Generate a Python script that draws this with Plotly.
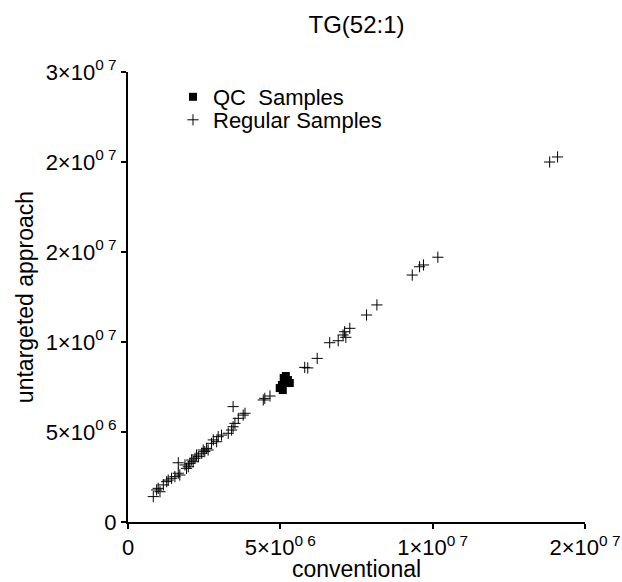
import numpy as np
import plotly.graph_objects as go

# values in units of 1e6
reg_x = [0.83, 0.94, 1.05, 0.99, 1.16, 1.27, 1.32, 1.43, 1.54, 1.65, 1.70, 1.65, 1.87, 1.92, 1.98,
         2.03, 2.09, 2.14, 2.20, 2.25, 2.31, 2.42, 2.47, 2.52, 2.58, 2.63, 2.74, 2.80, 2.91, 2.96,
         3.07, 3.29, 3.40, 3.45, 3.51, 3.62, 3.78, 3.84, 3.45, 4.44, 4.49, 4.66, 5.80, 5.90, 6.21,
         6.62, 6.90, 7.06, 7.11, 7.15, 7.28, 7.83, 8.17, 9.33, 9.57, 9.70, 10.17, 13.84, 14.10]
reg_y = [1.41, 1.78, 1.68, 1.87, 2.06, 2.24, 2.33, 2.43, 2.52, 2.71, 2.61, 3.29, 3.17, 2.98, 3.07,
         3.26, 3.44, 3.35, 3.54, 3.72, 3.63, 3.82, 4.00, 3.91, 4.09, 4.00, 4.37, 4.56, 4.46, 4.74,
         4.83, 4.93, 5.11, 5.29, 5.48, 5.76, 5.94, 6.04, 6.41, 6.78, 6.87, 7.00, 8.59, 8.56, 9.09,
         9.96, 10.07, 10.39, 10.57, 10.26, 10.76, 11.50, 12.06, 13.72, 14.18, 14.28, 14.71, 20.00, 20.28]
qc_x = [4.98, 5.05, 5.15, 5.11, 5.25, 5.18, 5.08, 5.31]
qc_y = [7.44, 7.61, 7.78, 8.00, 7.89, 8.11, 7.33, 7.72]

x_ticks = [0, 5e6, 1e7, 1.5e7]
x_labels = ["0", "5×10<sup>0 6</sup>", "1×10<sup>0 7</sup>", "2×10<sup>0 7</sup>"]
y_ticks = [0, 5e6, 1e7, 1.5e7, 2e7, 2.5e7]
y_labels = ["0", "5×10<sup>0 6</sup>", "1×10<sup>0 7</sup>", "2×10<sup>0 7</sup>",
            "2×10<sup>0 7</sup>", "3×10<sup>0 7</sup>"]

scale = 1e6
L, R, T, B = 128, 37, 72, 60
W, H = 622, 582
pw, ph = W - L - R, H - T - B

def lx(px):
    return (px - L) / pw

def ly(py):
    return (H - B - py) / ph

fig = go.Figure()
fig.add_trace(go.Scatter(
    x=np.array(qc_x) * scale, y=np.array(qc_y) * scale, mode="markers",
    name="QC\u00a0\u00a0Samples", legend="legend",
    marker=dict(symbol="square", size=8, color="black", line=dict(width=0)),
))
fig.add_trace(go.Scatter(
    x=np.array(reg_x) * scale, y=np.array(reg_y) * scale, mode="markers",
    name="Regular Samples", legend="legend2",
    marker=dict(symbol="cross-thin", size=8, color="black", line=dict(width=1, color="black")),
))

font = "Arial"
leg_common = dict(xanchor="left", yanchor="middle", bgcolor="rgba(0,0,0,0)",
                  font=dict(size=22), borderwidth=0)
fig.update_layout(
    width=W, height=H,
    margin=dict(l=L, r=R, t=T, b=B, autoexpand=False),
    paper_bgcolor="white", plot_bgcolor="white",
    font=dict(family=font, size=22, color="black"),
    title=dict(text="TG(52:1)", x=(L + W - R) / 2 / W, xanchor="center",
               y=1 - 25 / H, yanchor="middle", font=dict(size=24)),
    showlegend=True,
    legend=dict(x=lx(173), y=ly(97), **leg_common),
    legend2=dict(x=lx(173), y=ly(120), **leg_common),
    xaxis=dict(range=[0, 1.5e7], tickvals=x_ticks, ticktext=x_labels, automargin=False,
               showgrid=False, zeroline=False, showline=True, linecolor="black",
               linewidth=2, ticks="outside", ticklen=5, tickwidth=1.5, tickcolor="black",
               title=dict(text="conventional", standoff=2, font=dict(size=23)),
               tickfont=dict(size=22)),
    yaxis=dict(range=[0, 2.5e7], tickvals=y_ticks, ticktext=y_labels, automargin=False,
               showgrid=False, zeroline=False, showline=True, linecolor="black",
               linewidth=2, ticks="outside", ticklen=5, tickwidth=1.5, tickcolor="black",
               title=dict(text="untargeted approach", standoff=6, font=dict(size=23)),
               tickfont=dict(size=22)),
)

fig.write_html("out.html")
